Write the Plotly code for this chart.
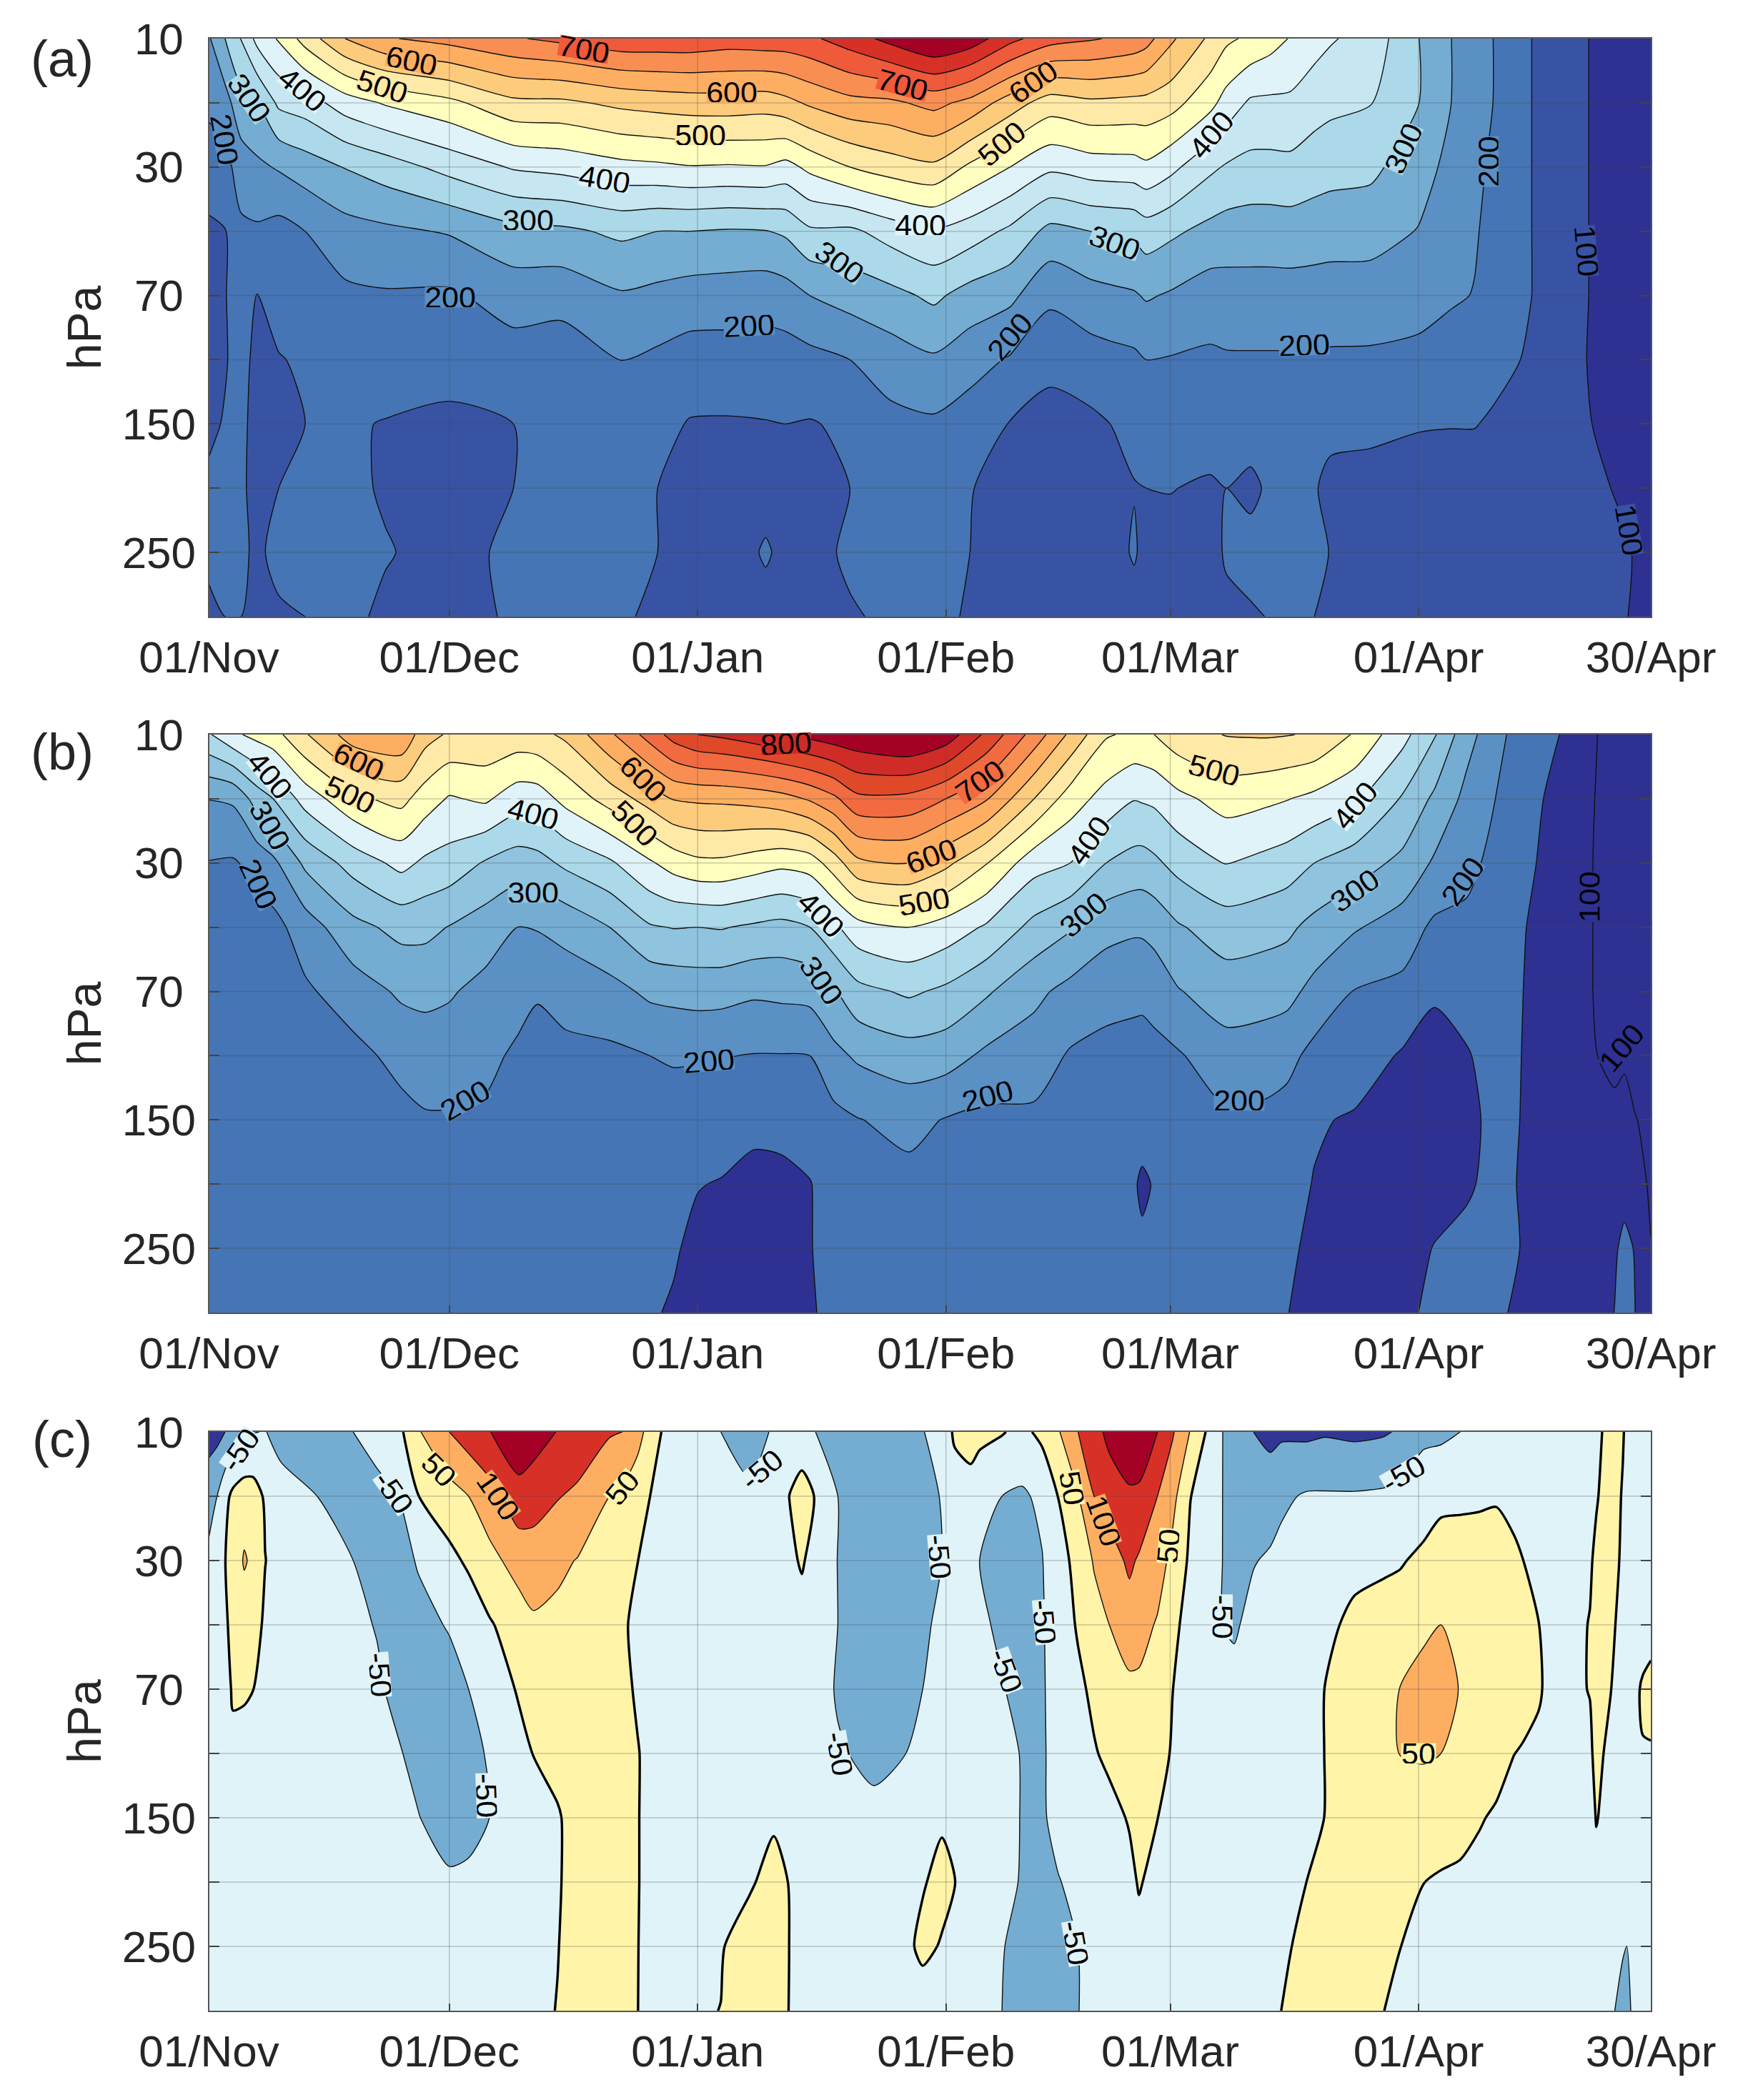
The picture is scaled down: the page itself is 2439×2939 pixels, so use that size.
import plotly.graph_objects as go

FONT = "Liberation Sans"
W, H = 2439, 2939
level_labels = ["10\u00a0", "", "30\u00a0", "", "70\u00a0", "", "150", "", "250", ""]
rows = list(range(10))
tick_days = [0, 30, 61, 92, 120, 151, 180]
tick_dates = ["01/Nov", "01/Dec", "01/Jan", "01/Feb", "01/Mar", "01/Apr", "30/Apr"]

a_days = [0,2,4,6,8.7,12,17,22,30,38,44,51.5,56,60,65,69.5,72,75,80,85,90.5,95,100,105,110,113,115.5,117,120,125,127,130,132.5,135,138,140,145,151,155,158,160.5,165,172,176,180]
a_cols = [
[245,215,165,145,130,135,145,155,155,145],
[300,230,182,148,148,148,152,160,160,150],
[352,282,225,190,172,160,158,155,155,150],
[415,298,240,193,149,142,138,140,145,140],
[455,360,255,182,165,148,140,150,158,146],
[520,375,275,200,175,155,150,158,160,150],
[600,425,302,230,190,165,155,157,160,157],
[645,455,325,240,195,172,148,147,152,145],
[668,487,367,254,192,172,138,135,140,135],
[695,538,405,285,222,178,150,150,156,155],
[712,540,415,290,218,172,152,155,158,155],
[735,562,435,310,245,201,172,155,155,155],
[735,570,440,300,237,190,165,150,150,142],
[735,575,447,300,228,178,147,142,140,138],
[725,577,445,295,225,178,146,140,137,140],
[730,572,447,298,220,178,148,140,153,140],
[730,585,433,308,228,178,150,142,143,140],
[740,608,462,342,250,185,147,140,140,140],
[775,634,500,340,270,200,158,150,155,147],
[815,640,525,370,285,225,185,165,160,155],
[855,665,540,395,310,243,192,170,160,155],
[830,635,490,375,280,220,175,153,150,148],
[765,575,450,340,262,195,148,125,125,125],
[720,525,410,285,210,165,130,120,115,115],
[705,540,425,300,233,177,140,125,120,118],
[695,538,428,305,240,185,152,135,135,125],
[685,535,430,310,245,190,162,148,155,130],
[670,533,440,325,255,200,172,150,135,130],
[610,520,415,310,245,197,172,151,140,130],
[540,465,360,285,225,192,165,146,135,130],
[510,430,345,278,228,195,168,150,155,140],
[490,392,335,275,230,195,170,140,165,145],
[470,390,335,275,230,195,170,158,165,152],
[447,390,337,277,230,195,168,158,165,153],
[420,370,325,272,230,195,165,153,158,150],
[405,362,318,270,228,193,160,140,149,135],
[380,352,312,268,228,192,158,137,135,135],
[301,301,270,248,215,190,153,130,128,128],
[251,251,237,222,207,175,152,125,122,122],
[225,222,212,205,198,180,152,125,120,120],
[198,198,190,183,175,165,143,120,118,118],
[151,151,151,151,151,144,125,125,120,120],
[101,101,101,101,101,100,102,112,118,120],
[85,85,85,85,85,85,90,96,108,106],
[75,75,75,75,75,78,80,85,88,85],
]

b_days = [0,3,6,8,12,18,24,27,30,34.5,38.5,41,44.5,50,55,58,61,64,68,71.5,75,78,81,87.4,92,97,103,107.5,112,115.5,116.5,118,121,127,132,134.6,138,143,149,153,157,160,162,164.3,168.5,172.5,175.5,176.7,178,180]
b_cols = [
[395,251,198,185,175,170,165,160,160,160],
[440,257,195,180,172,168,163,160,160,158],
[465,323,215,185,175,170,165,160,160,158],
[480,350,238,183,172,168,163,160,158,158],
[545,420,310,225,192,178,170,165,160,160],
[625,490,370,285,225,185,175,165,160,158],
[640,515,415,315,258,215,185,170,165,160],
[570,475,390,313,262,225,195,175,165,160],
[543,445,380,298,255,225,195,175,165,160],
[540,458,345,275,235,215,190,172,165,160],
[530,422,325,250,222,190,178,170,165,160],
[535,425,332,253,205,180,172,168,165,160],
[560,465,360,265,222,185,175,168,160,158],
[640,520,392,300,232,190,178,170,160,158],
[720,570,443,345,260,200,180,168,158,155],
[770,603,471,352,265,205,178,165,155,145],
[800,608,489,350,270,203,180,152,138,130],
[810,610,490,353,268,202,175,147,135,125],
[830,617,475,342,258,198,163,135,128,125],
[850,630,462,334,262,198,162,140,130,128],
[865,656,473,350,266,200,172,148,148,145],
[880,689,525,390,294,236,185,170,165,162],
[890,738,588,431,335,258,198,178,168,165],
[910,735,600,450,358,277,215,185,172,165],
[880,700,562,429,340,272,197,178,170,165],
[790,655,503,394,307,240,187,170,162,160],
[680,550,420,335,262,225,190,172,162,158],
[590,475,400,305,235,195,178,165,160,158],
[505,430,350,265,220,183,170,160,157,155],
[490,402,332,257,215,178,165,153,157,155],
[492,405,330,258,213,178,163,145,155,155],
[500,410,340,265,222,183,170,152,160,158],
[530,437,367,295,247,195,175,160,160,155],
[552,470,402,325,275,230,192,172,165,158],
[555,460,385,317,270,224,188,170,163,155],
[552,452,375,310,265,215,180,165,158,151],
[545,437,350,285,235,185,155,148,140,135],
[495,410,325,255,198,175,145,135,130,125],
[416,345,287,227,187,145,130,125,130,145],
[355,290,243,190,155,135,125,130,152,155],
[268,236,212,190,170,146,138,145,160,158],
[228,205,192,182,172,165,158,158,162,160],
[200,188,178,172,168,162,160,158,155,151],
[178,168,160,151,148,147,146,143,148,135],
[151,135,130,125,120,118,116,115,115,115],
[104,102,101,101,101,102,103,110,115,120],
[90,90,90,90,90,95,105,125,145,151],
[88,88,88,88,90,98,105,135,160,165],
[85,85,85,85,85,92,101,115,148,151],
[80,80,80,80,85,99,95,95,101,110],
]

c_days = [0,1,2,3,4.4,5.5,7,9,13.5,18,21,24.2,26.1,30,32.4,35,38.7,40.5,43.5,46,50,51.6,53.5,55,56.4,60,63.9,67.5,70.5,72.5,74,75.5,78.5,83,87,89.1,91.5,93.1,95.1,96.2,99,101.5,104,106,108.5,110.5,112.4,114.9,116.1,118.4,120.3,122.5,124.4,126.6,128,130.4,132.5,133.9,137.1,139.3,143,146.6,148.7,151.6,153.8,156.2,158.6,160.7,162.9,164,166,167.5,172.4,173.2,175,176.5,177,178,179,180]
c_cols = [
[-130,-55,-47,-30,-25,-20,-15,-15,-15,-15],
[-115,-50,-38,-25,-22,-18,-12,-12,-12,-12],
[-100,-15,-1,-8,-15,-20,-20,-20,-20,-20],
[-80,12,20,15,5,-10,-25,-25,-25,-25],
[-60,25,55,22,5,-15,-25,-25,-25,-25],
[-52,22,40,18,0.5,-20,-25,-25,-25,-25],
[-48,-6,1,-7,-15,-22,-22,-22,-22,-22],
[-68,-30,-18,-15,-18,-20,-20,-20,-20,-20],
[-80,-50,-30,-20,-18,-18,-20,-20,-22,-22],
[-50,-70,-50,-38,-30,-22,-18,-18,-18,-18],
[-30,-65,-70,-53,-42,-28,-22,-15,-15,-15],
[-1,-47,-60,-70,-70,-50,-35,-25,-15,-15],
[45,-1,-47,-62,-65,-65,-48,-30,-18,-15],
[100,30,-13,-47,-65,-72,-75,-42,-20,-15],
[125,50,8,-32,-50,-65,-70,-38,-20,-15],
[148,80,35,-5,-30,-45,-50,-32,-18,-15],
[190,130,70,25,5,-15,-25,-25,-15,-12],
[175,120,78,42,15,1,-17,-20,-10,-8],
[148,103,60,38,22,10,-3,-3,-1,1],
[135,90,48,30,25,20,12,12,12,15],
[105,50,28,15,18,20,20,20,22,22],
[100,40,20,6,10,13,14,14,15,15],
[70,15,0.5,-10,-5,2,2,2,1,0.5],
[30,0.5,-10,-18,-15,-10,-12,-12,-12,-12],
[0.5,-12,-18,-22,-20,-18,-15,-15,-15,-18],
[-25,-25,-25,-25,-22,-22,-20,-15,-8,-5],
[-50,-28,-25,-25,-22,-20,-18,-12,-3,0.5],
[-70,-42,-25,-22,-20,-18,-12,-5,20,22],
[-45,-20,-20,-20,-18,-15,-6,15,25,25],
[-25,1,-8,-20,-18,-15,-10,-2,-1,-2],
[-33,22,4,-15,-20,-20,-18,-15,-15,-15],
[-48,0.5,-12,-22,-25,-25,-20,-18,-18,-18],
[-75,-50,-51,-50,-55,-45,-25,-20,-20,-20],
[-90,-75,-75,-75,-75,-62,-38,-20,-20,-20],
[-70,-72,-70,-65,-60,-50,-30,-10,-15,-20],
[-52,-62,-62,-58,-50,-35,-20,-5,15,-35],
[-30,-48,-50,-40,-30,-22,-8,18,-5,-28],
[8,-25,-28,-28,-25,-22,-12,0.5,-15,-20],
[25,-25,-28,-28,-25,-20,-18,-18,-20,-22],
[15,-38,-50,-40,-30,-25,-25,-25,-28,-30],
[3,-50,-65,-60,-47,-38,-35,-42,-48,-50],
[-12,-57,-75,-75,-65,-52,-52,-52,-62,-65],
[12,-40,-52,-55,-55,-55,-55,-60,-65,-70],
[45,0.5,-15,-22,-30,-35,-38,-52,-58,-62],
[100,48,12,4,-8,-20,-30,-40,-50,-51],
[130,100,55,28,8,-3,-20,-28,-35,-35],
[165,120,80,50,25,8,-12,-22,-25,-25],
[210,137,108,80,38,18,3,-10,-22,-25],
[205,135,95,70,40,25,12,3,-12,-22],
[150,100,75,45,32,20,0.5,-12,-15,-18],
[105,65,35,10,0.5,-5,-15,-18,-18,-18],
[48,1,-8,-15,-22,-25,-22,-22,-22,-22],
[0.5,-15,-22,-30,-28,-25,-22,-22,-22,-22],
[-51,-51,-51,-51,-35,-25,-20,-20,-20,-20],
[-85,-75,-70,-55,-38,-28,-22,-20,-20,-20],
[-100,-70,-52,-38,-30,-25,-25,-22,-22,-20],
[-115,-68,-45,-32,-25,-22,-22,-20,-18,-15],
[-108,-58,-38,-28,-22,-20,-18,-15,-8,0.5],
[-110,-45,-30,-22,-18,-15,-12,0.5,12,18],
[-105,-45,-28,-10,0.5,0.5,0.5,8,18,22],
[-110,-45,-12,10,15,18,18,18,22,18],
[-105,-42,-8,20,32,30,28,25,10,0.5],
[-95,-38,-4,25,51,51,30,22,0.5,-8],
[-60,-24,10,38,72,55,25,0.5,-15,-20],
[-60,-10,20,50,68,50,22,-5,-15,-20],
[-50,-9,22,38,48,35,15,-8,-18,-20],
[-35,-8,25,35,35,25,3,-12,-18,-20],
[-30,-5,25,30,28,15,-5,-15,-20,-20],
[-30,-15,10,25,20,0.5,-15,-18,-20,-20],
[-28,-20,0.5,15,15,-3,-15,-18,-20,-20],
[-25,-22,-8,0.5,5,-10,-15,-18,-20,-20],
[-22,-22,-15,-15,-12,-15,-18,-20,-20,-20],
[-15,-8,-3,1,1,-5,-15,-20,-20,-20],
[-8,-2,5,10,10,8,2,-12,-18,-20],
[12,12,12,5,0.5,-8,-15,-20,-25,-40],
[2,-2,-5,-8,-10,-12,-15,-18,-45,-70],
[-5,-8,-10,-12,-12,-14,-15,-18,-50,-60],
[-15,-15,-15,-15,-8,-12,-15,-18,-25,-40],
[-18,-18,-18,-18,5,-2,-15,-18,-20,-30],
[-20,-20,-20,-10,8,-2,-15,-18,-20,-25],
]

# contour label lists: text, day, level-row, text angle
a_lab_text = ["200","300","400","500","600","700","600","500","400","300","200","200","300","700","400","600","500","200","300","400","300","200","100","100","200"]
a_lab_day = [1.9,5,11.6,21.6,25.3,46.8,65.3,61.3,49.4,39.8,30.1,67.4,78.7,86.6,88.8,102.9,99,100,113.1,125.1,149.1,159.7,172,177.3,136.7]
a_lab_row = [1.57,0.92,0.79,0.75,0.34,0.17,0.83,1.5,2.19,2.83,4.03,4.47,3.48,0.72,2.9,0.68,1.64,4.64,3.18,1.5,1.71,1.91,3.31,7.65,4.77]
a_lab_ang = [80,55,40,18,12,10,0,0,10,0,0,-3,35,15,0,-35,-40,-50,20,-50,-65,-90,85,80,-2]

b_lab_text = ["400","300","200","600","500","200","400","300","600","500","200","800","400","300","700","600","500","400","300","200","500","400","300","200","200","100","100"]
b_lab_day = [7.6,7.6,6.1,18.7,17.6,32,40.5,40.5,54.2,53.1,62.4,72,76.4,76.4,96.2,90.2,89.3,109.9,109.2,97.2,125.5,143.1,143.1,156.5,128.6,172.4,176.3]
b_lab_row = [0.63,1.41,2.33,0.42,0.93,5.7,1.24,2.46,0.69,1.38,5.08,0.15,2.8,3.83,0.73,1.89,2.6,1.65,2.8,5.63,0.56,1.1,2.43,2.29,5.7,2.53,4.88]
b_lab_ang = [50,60,65,25,25,-30,15,0,45,45,-5,-3,45,55,-35,-20,-10,-55,-40,-15,15,-50,-35,-55,0,-90,-50]

c_lab_text = ["-50","-50","-50","-50","50","100","50","-50","-50","-50","50","100","50","-50","-50","-50","-50","50","-50"]
c_lab_day = [3.9,23.1,21.3,34.6,28.7,36.1,51.6,69,78.7,91.2,107.7,111.7,119.8,104.3,99.5,126.5,149.1,151,108.2]
c_lab_row = [0.28,0.94,3.78,5.66,0.59,1.0,0.87,0.59,5,1.94,0.87,1.39,1.77,2.95,3.71,2.88,0.66,5,7.95]
c_lab_ang = [-55,55,85,88,45,55,-50,-40,80,85,80,70,-85,85,70,90,-30,0,80]

a_colors = ["#2e3192","#3953a4","#4575b4","#5b90c5","#74add1","#abd9e9","#c6e6f1","#e0f3f8","#ffffbf","#fee9a6","#fdcb7c","#fdae61","#f98e52","#ee5a3a","#d73027","#a50026"]
b_colors = ["#2e3192","#2e3192","#4575b4","#5b90c5","#74add1","#8fc3de","#abd9e9","#e0f3f8","#ffffbf","#fee9a6","#fdcb7c","#fdae61","#f98e52","#f16a40","#e0482a","#cf2b27","#a50026"]
c_colors = ["#313695","#74add1","#e0f3f8","#fff4a8","#fdae61","#d73027","#a50026"]

panel_tags = ["(a)", "(b)", "(c)"]
tag_y = [82, 1052, 2014]
panel_top = [54, 1028, 2004]
panel_bot = [863, 1837, 2814]
LEFT, RIGHT = 292.5, 2310


def transpose(cols):
    return [[c[i] for c in cols] for i in range(10)]


def scale(colors):
    n = len(colors) - 1
    return [[i / n, col] for i, col in enumerate(colors)]


fig = go.Figure()
specs = [
    (a_days, a_cols, a_colors, 100, 800, 50),
    (b_days, b_cols, b_colors, 100, 850, 50),
    (c_days, c_cols, c_colors, -100, 150, 50),
]
labels = [
    (a_lab_text, a_lab_day, a_lab_row, a_lab_ang),
    (b_lab_text, b_lab_day, b_lab_row, b_lab_ang),
    (c_lab_text, c_lab_day, c_lab_row, c_lab_ang),
]
annotations = []
shapes = []
GRID = "rgba(70,70,70,0.28)"
for k, (days, cols, colors, lo, hi, step) in enumerate(specs):
    sfx = "" if k == 0 else str(k + 1)
    xa, ya = "x" + sfx, "y" + sfx
    fig.add_trace(go.Contour(
        x=days, y=rows, z=transpose(cols), xaxis=xa, yaxis=ya,
        autocontour=False,
        contours=dict(start=lo, end=hi, size=step, coloring="fill"),
        colorscale=scale(colors), showscale=False,
        line=dict(color="#111111", width=1.4, smoothing=0.7),
        hoverinfo="skip",
    ))
    if k == 2:
        fig.add_trace(go.Contour(
            x=days, y=rows, z=transpose(cols), xaxis=xa, yaxis=ya,
            autocontour=False,
            contours=dict(start=0, end=0, size=1, coloring="none"),
            showscale=False,
            line=dict(color="#000000", width=3.4, smoothing=0.7),
            hoverinfo="skip",
        ))
    top, bot = panel_top[k], panel_bot[k]
    axis_x = dict(
        domain=[LEFT / W, RIGHT / W], anchor=ya, range=[0, 180], automargin=False,
        tickmode="array", tickvals=tick_days, ticktext=tick_dates,
        ticks="inside", ticklen=10, tickcolor="#444", tickwidth=1.5,
        tickfont=dict(family=FONT, size=62, color="#262626"),
        ticklabelstandoff=2,
        showgrid=False, zeroline=False, showline=True, linecolor="#555", linewidth=2, mirror=True,
    )
    axis_y = dict(
        domain=[1 - bot / H, 1 - top / H], anchor=xa, range=[9, 0], automargin=False,
        tickmode="array", tickvals=rows, ticktext=level_labels,
        ticks="inside", ticklen=14, tickcolor="#444", tickwidth=1.5,
        tickfont=dict(family=FONT, size=62, color="#262626"),
        ticklabelstandoff=4,
        showgrid=False, zeroline=False, showline=True, linecolor="#555", linewidth=2, mirror="ticks",
        title=dict(text="hPa", font=dict(family=FONT, size=66, color="#262626"), standoff=8),
    )
    fig.update_layout(**{"xaxis" + sfx: axis_x, "yaxis" + sfx: axis_y})

    for d in tick_days[1:-1]:
        shapes.append(dict(type="line", xref=xa, yref=ya, x0=d, x1=d, y0=0, y1=9,
                           line=dict(color=GRID, width=1.5), layer="above"))
    for r in rows[1:-1]:
        shapes.append(dict(type="line", xref=xa, yref=ya, x0=0, x1=180, y0=r, y1=r,
                           line=dict(color=GRID, width=1.5), layer="above"))

    annotations.append(dict(
        text=panel_tags[k], xref="paper", yref="paper", x=87 / W, y=1 - tag_y[k] / H,
        showarrow=False, xanchor="center", yanchor="middle",
        font=dict(family=FONT, size=72, color="#262626"),
    ))
    for txt, d, r, ang in zip(*labels[k]):
        v = int(txt)
        if k == 2:
            band = (v - lo) // step + (1 if v < 0 else 0)
        else:
            band = (v - lo) // step + 1
        box_w = 48 if len(txt) == 2 else (62 if v < 0 else 70)
        annotations.append(dict(
            text=txt, x=d, y=r, xref=xa, yref=ya, showarrow=False, textangle=ang,
            xanchor="center", yanchor="middle", borderpad=0,
            width=box_w, height=28,
            bgcolor=colors[band],
            font=dict(family=FONT, size=43, color="#000000"),
        ))

fig.update_layout(
    width=W, height=H, margin=dict(l=0, r=0, t=0, b=0),
    paper_bgcolor="white", plot_bgcolor="white", showlegend=False,
    annotations=annotations, shapes=shapes,
)
fig.write_html("out.html", post_script="document.body.style.margin='0';", config={"displayModeBar": False})
